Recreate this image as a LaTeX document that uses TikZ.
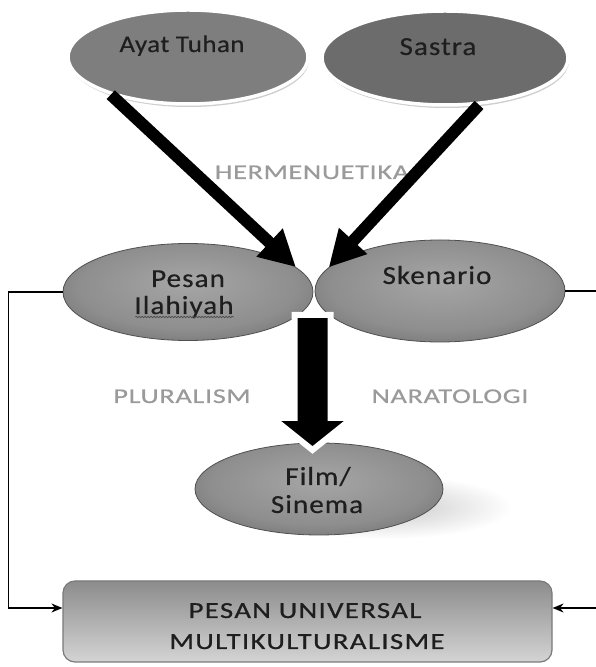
\documentclass[tikz,border=0pt]{standalone}
\usepackage{fontspec}
\setmainfont{Carlito}[FakeStretch=1.12, FakeBold=0.4]
\newfontfamily\labelfont{Carlito}[FakeStretch=1.35, LetterSpace=3, FakeBold=0.4]
\newfontfamily\boxfont{Carlito}[FakeStretch=1.25, LetterSpace=6, FakeBold=0.8]
\usetikzlibrary{shapes.geometric,arrows.meta,shadows,decorations.pathmorphing}

\definecolor{ovalflatA}{HTML}{7E7E7E}
\definecolor{ovalflatB}{HTML}{6C6C6C}
\definecolor{ovalin}{HTML}{A6A6A6}
\definecolor{ovalmid}{HTML}{8E8E8E}
\definecolor{ovalout}{HTML}{5E5E5E}
\definecolor{labelgray}{HTML}{9A9A9A}
\definecolor{inktext}{HTML}{1E1E1E}
\definecolor{boxtop}{HTML}{8C8C8C}
\definecolor{boxbottom}{HTML}{D4D4D4}
\definecolor{boxedge}{HTML}{7A7A7A}
\definecolor{groundshade}{HTML}{C8C8C8}

% soft gray body used by the lower ovals
\pgfdeclareradialshading{ovalshade}{\pgfpoint{0bp}{5bp}}{%
  color(0bp)=(ovalin); color(22bp)=(ovalmid); color(40bp)=(ovalout); color(50bp)=(ovalout)}

\tikzset{
  flatoval/.style={ellipse, inner sep=0pt, draw=white, line width=3.5pt,
    drop shadow={shadow xshift=1pt, shadow yshift=-3pt, fill=gray!55, opacity=0.7}},
  shadedoval/.style={ellipse, inner sep=0pt, draw=ovalout!85!black, line width=0.8pt, shading=ovalshade},
  ovaltext/.style={anchor=base, inner sep=0pt, text=inktext,
    font=\fontsize{26}{30}\selectfont\addfontfeature{LetterSpace=4}},
  steplabel/.style={anchor=base, inner sep=0pt, text=labelgray,
    font=\labelfont\fontsize{21}{25}\selectfont},
  boxtext/.style={anchor=base, inner sep=0pt, text=inktext,
    font=\boxfont\fontsize{23}{27}\selectfont},
  flowline/.style={line width=12pt, draw=black, -{Triangle[length=36pt,width=36pt]}},
  feedback/.style={line width=1.4pt, draw=black, -{Stealth[length=11pt,width=9pt]}},
  spellmark/.style={draw=gray!60!black, line width=0.6pt, decorate,
    decoration={snake, amplitude=0.8pt, segment length=3pt}},
}

\begin{document}
\begin{tikzpicture}[x=1pt,y=1pt]
\clip (0,0) rectangle (596,667);
\fill[white] (0,0) rectangle (596,667);

% label between the two sources
\node[steplabel] (herm) at (312,488) {HERMENUETIKA};

% sources
\node[flatoval, fill=ovalflatA, minimum width=240, minimum height=94] (ayat) at (188,610) {};
\node[flatoval, fill=ovalflatB, minimum width=246, minimum height=94] (sastra) at (445,609) {};
\node[ovaltext, font=\fontsize{24}{28}\selectfont\addfontfeature{LetterSpace=2}] (ayatT) at (182,615) {Ayat Tuhan};
\node[ovaltext] (sastraT) at (438,612) {Sastra};

% intermediate stage
\node[shadedoval, minimum width=250, minimum height=97] (pesan) at (188,375) {};
\node[shadedoval, minimum width=250, minimum height=102] (skenario) at (440,376) {};
\node[ovaltext] (pesanT1) at (188,380) {Pesan};
\node[ovaltext] (pesanT2) at (184,353) {Ilahiyah};
\draw[spellmark] ([xshift=1pt,yshift=-3pt]pesanT2.base west) -- ([yshift=-3pt]pesanT2.base east);
\node[ovaltext] (skenarioT) at (437,383) {Skenario};

\node[steplabel] (plural) at (182,264) {PLURALISM};
\node[steplabel] (narat) at (450,264) {NARATOLOGI};

% result with its ground shadow
\shade[inner color=groundshade, outer color=white] (385,160) ellipse (128 and 32);
\node[shadedoval, minimum width=248, minimum height=92] (film) at (319,178) {};
\node[ovaltext] (filmT1) at (318,182) {Film/};
\node[ovaltext] (filmT2) at (317,154) {Sinema};

% outcome box
\node[draw=boxedge, line width=1.2pt, rounded corners=12pt, top color=boxtop, bottom color=boxbottom,
      minimum width=489, minimum height=81, inner sep=0pt] (univ) at (307.5,45.5) {};
\node[boxtext] (univT1) at (305,49) {PESAN UNIVERSAL};
\node[boxtext] (univT2) at (307,18) {MULTIKULTURALISME};

% feedback lines into the box
\draw[feedback] (pesan.west) -- ++(-54,0) |- ([yshift=13.5pt]univ.west);
\draw[feedback] (skenario.east) -- ++(45,0) |- ([yshift=13.5pt]univ.east);

% interpretation arrows
\draw[flowline] (ayat.206) -- (pesan.13);
\draw[flowline] (sastra.306) -- (skenario.168);

% wide arrow down to the film
\coordinate (fork) at (312.5,352);
\coordinate (tip) at (312.5,217);
\filldraw[fill=black, draw=white, line width=6pt, line join=miter]
  (fork) ++(-18,0) -- ++(36,0) -- ++(0,-103) -- ++(22,0) -- (tip)
  -- ([xshift=-40pt,yshift=32pt]tip) -- ++(22,0) -- cycle;
\end{tikzpicture}
\end{document}
